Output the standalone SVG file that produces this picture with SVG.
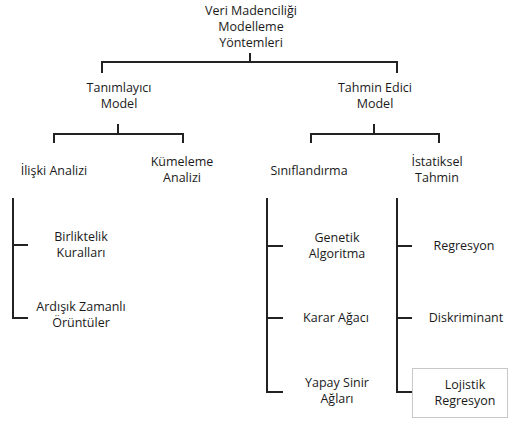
<svg xmlns="http://www.w3.org/2000/svg" width="510" height="421" viewBox="0 0 510 421">
<style>
text{font-family:"Open Sans","Noto Sans","Liberation Sans",sans-serif;font-size:12.5px;fill:#1a1a1a;text-anchor:middle}
.c path{fill:none;stroke:#222;stroke-width:2}
.box{fill:#fff;stroke:#c8c8c8;stroke-width:1}
</style>
<rect width="510" height="421" fill="#fff"/>
<g class="c" id="connectors">
<path d="M250,53V62M102,73V62H397V73"/>
<path d="M118,124V134M54,143V134H183V143"/>
<path d="M374,124V134M311,143V134H439V143"/>
<path d="M13,198V318H28M13,245H28"/>
<path d="M267,198V392H283M267,246H283M267,318H283"/>
<path d="M397,198V392H412M397,246H412M397,318H412"/>
</g>
<g id="root"><text x="251" y="15">Veri Madenciliği</text><text x="251" y="31">Modelleme</text><text x="251" y="47">Yöntemleri</text></g>
<g id="tanimlayici"><text x="119" y="92">Tanımlayıcı</text><text x="119" y="108">Model</text></g>
<g id="tahmin"><text x="375" y="92">Tahmin Edici</text><text x="375" y="108">Model</text></g>
<g id="iliski"><text x="54" y="175">İlişki Analizi</text></g>
<g id="kumeleme"><text x="182" y="166">Kümeleme</text><text x="182" y="182">Analizi</text></g>
<g id="siniflandirma"><text x="309" y="175">Sınıflandırma</text></g>
<g id="istatiksel"><text x="437" y="166">İstatiksel</text><text x="437" y="182">Tahmin</text></g>
<g id="birliktelik"><text x="81" y="241">Birliktelik</text><text x="81" y="257">Kuralları</text></g>
<g id="ardisik"><text x="81" y="311">Ardışık Zamanlı</text><text x="81" y="327">Örüntüler</text></g>
<g id="genetik"><text x="337" y="242">Genetik</text><text x="337" y="258">Algoritma</text></g>
<g id="karar"><text x="336" y="322">Karar Ağacı</text></g>
<g id="yapay"><text x="337" y="387">Yapay Sinir</text><text x="337" y="403">Ağları</text></g>
<g id="regresyon"><text x="464" y="250">Regresyon</text></g>
<g id="diskriminant"><text x="466" y="322">Diskriminant</text></g>
<g id="lojistik"><rect class="box" x="412.5" y="368.5" width="95" height="49"/><text x="465" y="389">Lojistik</text><text x="465" y="405">Regresyon</text></g>
</svg>
